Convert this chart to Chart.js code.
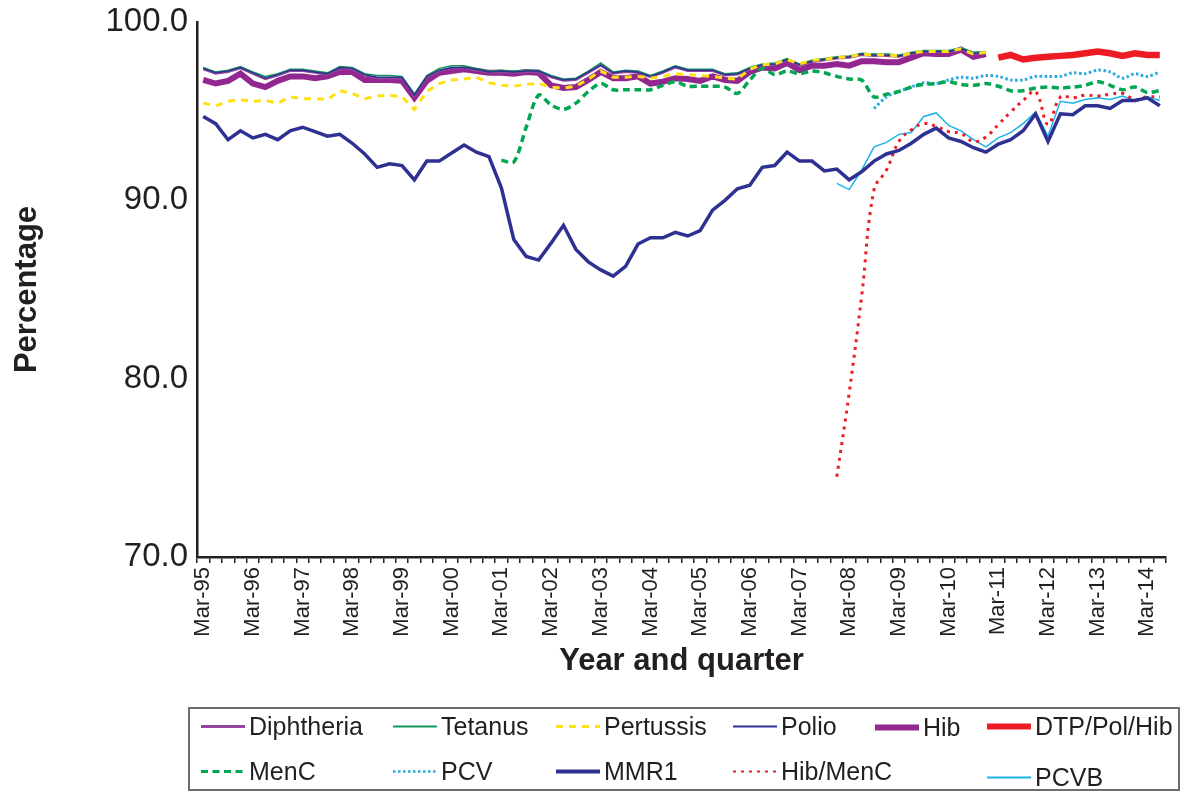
<!DOCTYPE html>
<html>
<head>
<meta charset="utf-8">
<title>Childhood immunisation coverage by quarter</title>
<script src="https://cdn.jsdelivr.net/npm/chart.js@4.4.1/dist/chart.umd.min.js"></script>
<style>
  body { margin: 0; background: #fff; font-family: "Liberation Sans", Arial, sans-serif; }
  #wrap { position: relative; width: 1182px; height: 793px; }
  #legendBox { position: absolute; left: 188px; top: 707px; width: 992px; height: 84px;
    border: 2px solid #6d6e71; box-sizing: border-box; }
  .item { position: absolute; display: flex; align-items: center; font-size: 25px;
    color: #231f20; white-space: nowrap; transform: translateY(-50%); }
  .item svg { margin-right: 4px; }
</style>
</head>
<body>
<div id="wrap">
  <canvas id="coverageChart" width="1182" height="793"></canvas>
  <div id="legendBox"></div>
</div>
<script>
// quarters Mar-95 .. Jun-14
const quarterNames = ["Mar", "Jun", "Sep", "Dec"];
const categories = [];
for (let y = 1995; y <= 2014; y++) {
  for (const q of quarterNames) categories.push(q + "-" + String(y).slice(2));
}
categories.length = 78;

const yTicks = [70, 80, 90, 100];

// series values (first value sits at the given start index)
const diphtheria = [
  97.35, 97.1, 97.2, 97.4, 97.1, 96.8, 97.0, 97.25, 97.25, 97.15,
  97.05, 97.4, 97.35, 97.0, 96.85, 96.85, 96.85, 95.85, 96.9, 97.25,
  97.4, 97.4, 97.3, 97.15, 97.2, 97.15, 97.2, 97.2, 96.9, 96.7,
  96.75, 97.15, 97.55, 97.1, 97.2, 97.15, 96.9, 97.15, 97.45, 97.25,
  97.25, 97.25, 97.0, 97.05, 97.35, 97.55, 97.6, 97.85, 97.55, 97.75,
  97.85, 97.95, 98.0, 98.15, 98.1, 98.1, 98.05, 98.2, 98.3, 98.3,
  98.3, 98.45, 98.2, 98.25
];
const tetanus = [
  97.45, 97.2, 97.3, 97.5, 97.2, 96.95, 97.1, 97.35, 97.35, 97.25,
  97.15, 97.5, 97.45, 97.1, 97.0, 97.0, 96.95, 95.95, 97.0, 97.4,
  97.55, 97.55, 97.4, 97.25, 97.3, 97.25, 97.3, 97.3, 97.0, 96.8,
  96.85, 97.25, 97.7, 97.2, 97.3, 97.25, 97.0, 97.25, 97.55, 97.35,
  97.35, 97.35, 97.1, 97.15, 97.45, 97.65, 97.7, 97.95, 97.65, 97.85,
  97.95, 98.05, 98.1, 98.25, 98.2, 98.2, 98.15, 98.3, 98.4, 98.4,
  98.4, 98.55, 98.3, 98.35
];
const pertussis = [
  95.45, 95.3, 95.55, 95.65, 95.55, 95.6, 95.45, 95.8, 95.7, 95.7,
  95.65, 96.15, 96.0, 95.7, 95.85, 95.9, 95.8, 95.1, 96.1, 96.55,
  96.75, 96.8, 96.9, 96.6, 96.45, 96.4, 96.5, 96.55, 96.35, 96.3,
  96.4, 96.8, 97.25, 96.9, 96.9, 96.95, 96.85, 96.95, 97.1, 97.05,
  97.0, 96.95, 96.85, 96.8, 97.35, 97.6, 97.65, 97.9, 97.65, 97.85,
  97.9, 98.0, 98.05, 98.2, 98.15, 98.15, 98.1, 98.25, 98.35, 98.35,
  98.35, 98.5, 98.2, 98.3
];
const polio = [
  97.4, 97.15, 97.25, 97.45, 97.15, 96.85, 97.05, 97.3, 97.3, 97.2,
  97.1, 97.45, 97.4, 97.05, 96.9, 96.9, 96.9, 95.9, 96.95, 97.3,
  97.45, 97.45, 97.35, 97.2, 97.25, 97.2, 97.25, 97.25, 96.95, 96.75,
  96.8, 97.2, 97.6, 97.15, 97.25, 97.2, 96.95, 97.2, 97.5, 97.3,
  97.3, 97.3, 97.05, 97.1, 97.4, 97.6, 97.65, 97.9, 97.6, 97.8,
  97.9, 98.0, 98.05, 98.2, 98.15, 98.15, 98.1, 98.25, 98.35, 98.35,
  98.35, 98.5, 98.25, 98.3
];
const hib = [
  96.75, 96.55, 96.7, 97.1, 96.55, 96.35, 96.7, 96.95, 96.95, 96.85,
  96.95, 97.2, 97.2, 96.75, 96.75, 96.75, 96.7, 95.75, 96.7, 97.15,
  97.25, 97.35, 97.25, 97.15, 97.15, 97.1, 97.2, 97.15, 96.45, 96.3,
  96.35, 96.75, 97.2, 96.85, 96.85, 96.95, 96.55, 96.65, 96.85, 96.8,
  96.7, 96.95, 96.75, 96.7, 97.2, 97.45, 97.4, 97.7, 97.3, 97.55,
  97.55, 97.65, 97.55, 97.8, 97.8, 97.75, 97.75, 98.0, 98.25, 98.2,
  98.2, 98.45, 98.05, 98.2
];
const dtpPolHib = [
  98.0, 98.15, 97.9, 98.0, 98.05, 98.1, 98.15, 98.25, 98.35, 98.25,
  98.1, 98.25, 98.15, 98.15
];
const menC = [
  92.25, 92.15, 94.1, 95.9, 95.35, 95.1, 95.45, 96.1, 96.55, 96.2,
  96.2, 96.2, 96.2, 96.45, 96.65, 96.4, 96.4, 96.4, 96.35, 96.0,
  96.75, 97.4, 97.05, 97.25, 97.1, 97.25, 97.15, 96.95, 96.8, 96.75,
  95.8, 95.95, 96.1, 96.35, 96.5, 96.55, 96.65, 96.5, 96.45, 96.55,
  96.4, 96.15, 96.15, 96.3, 96.35, 96.3, 96.35, 96.45, 96.65, 96.45,
  96.2, 96.35, 96.05, 96.15
];
const pcv = [
  95.15, 95.8, 96.1, 96.35, 96.6, 96.55, 96.75, 96.9, 96.85, 97.0,
  96.95, 96.75, 96.75, 96.95, 96.95, 96.95, 97.15, 97.1, 97.3, 97.2,
  96.85, 97.1, 96.95, 97.2
];
const mmr1 = [
  94.7, 94.3, 93.4, 93.9, 93.5, 93.7, 93.4, 93.9, 94.1, 93.85,
  93.6, 93.7, 93.2, 92.6, 91.85, 92.05, 91.95, 91.15, 92.2, 92.2,
  92.65, 93.1, 92.7, 92.45, 90.7, 87.8, 86.85, 86.65, 87.6, 88.6,
  87.25, 86.55, 86.1, 85.75, 86.3, 87.55, 87.9, 87.9, 88.2, 88.0,
  88.3, 89.45, 90.0, 90.65, 90.85, 91.85, 91.95, 92.7, 92.2, 92.2,
  91.65, 91.75, 91.15, 91.6, 92.2, 92.6, 92.8, 93.2, 93.7, 94.05,
  93.5, 93.3, 92.95, 92.7, 93.15, 93.4, 93.9, 94.85, 93.3, 94.85,
  94.8, 95.3, 95.3, 95.15, 95.6, 95.6, 95.75, 95.3
];
const hibMenC = [
  74.5, 79.2, 84.6, 90.6, 91.7, 93.3, 93.95, 94.3, 94.15, 93.85,
  93.75, 93.3, 93.55, 94.25, 94.95, 95.6, 96.1, 94.25, 95.8, 95.75,
  95.9, 95.85, 95.95, 96.0, 95.65, 95.8, 95.8
];
const pcvb = [
  90.95, 90.6, 91.7, 93.0, 93.25, 93.7, 93.8, 94.7, 94.9, 94.2,
  93.9, 93.4, 93.0, 93.5, 93.8, 94.3, 94.95, 93.6, 95.55, 95.45,
  95.65, 95.75, 95.65, 95.85, 95.6, 95.8, 95.6
];

// place a series on the 78 quarters, starting at index `start`
function pad(start, values) {
  const out = new Array(categories.length).fill(null);
  values.forEach((v, i) => { out[start + i] = v; });
  return out;
}

const ink = "#231f20";
Chart.defaults.font.family = "'Liberation Sans', Arial, sans-serif";
Chart.defaults.color = ink;

const datasets = [
  { label: "Diphtheria", data: pad(0, diphtheria), borderColor: "#93479b", borderWidth: 2, order: 4, legendWidth: 3 },
  { label: "Tetanus", data: pad(0, tetanus), borderColor: "#13985a", borderWidth: 1.5, order: 3, legendWidth: 2 },
  { label: "Pertussis", data: pad(0, pertussis), borderColor: "#ffe014", borderWidth: 3, borderDash: [7, 6], order: 1, legendWidth: 3 },
  { label: "Polio", data: pad(0, polio), borderColor: "#2e3192", borderWidth: 1.5, order: 2, legendWidth: 2 },
  { label: "Hib", data: pad(0, hib), borderColor: "#92278f", borderWidth: 6, order: 6, legendWidth: 6 },
  { label: "DTP/Pol/Hib", data: pad(64, dtpPolHib), borderColor: "#ed1c24", borderWidth: 6.5, order: 6, legendWidth: 6 },
  { label: "MenC", data: pad(24, menC), borderColor: "#00a651", borderWidth: 3.5, borderDash: [7, 4.5], tension: 0.3, order: 5, legendWidth: 3 },
  { label: "PCV", data: pad(54, pcv), borderColor: "#27aae1", borderWidth: 3, borderDash: [2.5, 2.5], tension: 0.3, order: 5, legendWidth: 2.5 },
  { label: "MMR1", data: pad(0, mmr1), borderColor: "#2e3192", borderWidth: 3.5, order: 2, legendWidth: 4 },
  { label: "Hib/MenC", data: pad(51, hibMenC), borderColor: "#ed1c24", borderWidth: 3, borderDash: [3, 5], tension: 0.4, order: 2, legendWidth: 2 },
  { label: "PCVB", data: pad(51, pcvb), borderColor: "#1cb3ec", borderWidth: 1.5, order: 3, legendWidth: 2 }
];
datasets.forEach(d => { d.pointRadius = 0; d.fill = false; d.spanGaps = false; d.tension = d.tension || 0; });

const chart = new Chart(document.getElementById("coverageChart"), {
  type: "line",
  data: { labels: categories, datasets: datasets },
  options: {
    responsive: false,
    animation: false,
    layout: { padding: { top: 22, right: 16, bottom: 113, left: 0 } },
    plugins: { legend: { display: false }, tooltip: { enabled: false } },
    scales: {
      x: {
        offset: true,
        grid: { display: true, offset: true, drawOnChartArea: false, drawTicks: true, tickLength: 6, color: ink, lineWidth: 1.5 },
        border: { display: true, color: ink, width: 2.5 },
        ticks: {
          autoSkip: false, minRotation: 90, maxRotation: 90, padding: 4,
          font: { size: 22 }, color: ink,
          callback: function (val, idx) { return idx % 4 === 0 ? this.getLabelForValue(val) : ""; }
        },
        title: { display: true, text: "Year and quarter", font: { size: 31, weight: "bold" }, color: ink, padding: { top: 0, bottom: 0 } },
        afterFit: s => { s.height = 123; s.paddingLeft = 0; s.paddingRight = 0; }
      },
      y: {
        min: yTicks[0],
        max: yTicks[yTicks.length - 1],
        grid: { display: false, drawTicks: false },
        border: { display: true, color: ink, width: 2.5 },
        afterBuildTicks: s => { s.ticks = yTicks.map(v => ({ value: v })); },
        ticks: { padding: 9, font: { size: 33 }, color: ink, callback: v => v.toFixed(1) },
        title: { display: true, text: "Percentage", font: { size: 31, weight: "bold" }, color: ink, padding: { top: 9, bottom: 0 } },
        afterFit: s => { s.width = 197; s.paddingTop = 0; s.paddingBottom = 0; }
      }
    }
  }
});

// legend box, laid out like the original two rows
const legendSpots = [
  ["Diphtheria", 201, 726], ["Tetanus", 393, 726], ["Pertussis", 556, 726],
  ["Polio", 733, 726], ["Hib", 875, 727], ["DTP/Pol/Hib", 987, 726],
  ["MenC", 201, 771], ["PCV", 393, 771], ["MMR1", 556, 771],
  ["Hib/MenC", 733, 771], ["PCVB", 987, 777]
];
const wrap = document.getElementById("wrap");
legendSpots.forEach(([name, left, top]) => {
  const ds = chart.data.datasets.find(d => d.label === name);
  const dash = ds.borderDash ? ds.borderDash.join(" ") : "none";
  const item = document.createElement("div");
  item.className = "item";
  item.style.left = left + "px";
  item.style.top = top + "px";
  item.innerHTML =
    '<svg width="44" height="12"><line x1="0" y1="6" x2="44" y2="6" stroke="' + ds.borderColor +
    '" stroke-width="' + ds.legendWidth + '" stroke-dasharray="' + dash + '"/></svg><span>' + name + "</span>";
  wrap.appendChild(item);
});
</script>
</body>
</html>
